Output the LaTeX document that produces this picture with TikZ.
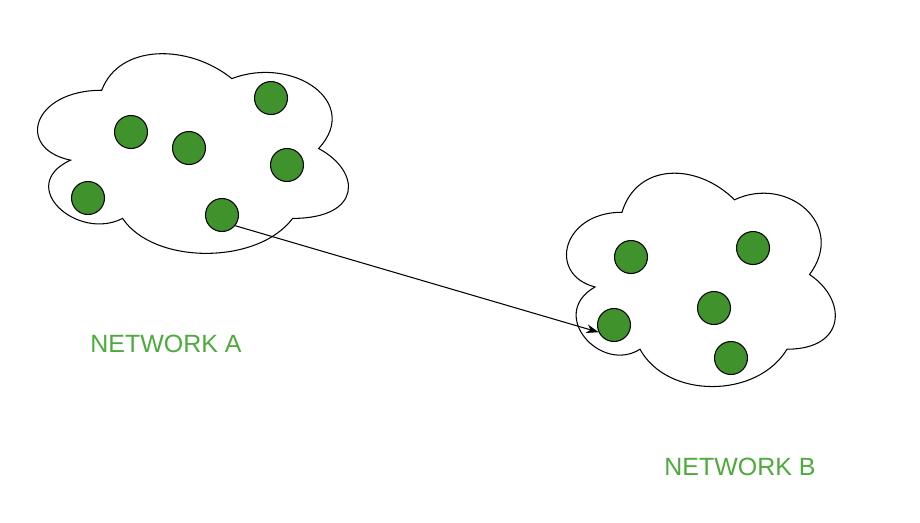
\documentclass[tikz,border=0pt]{standalone}
\usepackage{fontspec}
\setmainfont{Liberation Sans}
\usetikzlibrary{arrows.meta}

% cloud outline: #1,#2 = top left corner, #3 = width, #4 = height (in px)
\newcommand{\netcloud}[4]{%
  \draw[cloudline, shift={(#1,#2)}, xscale=#3, yscale=#4]
    (0.25,0.25) .. controls (0.05,0.25) and (0,0.5) .. (0.16,0.55)
    .. controls (0,0.66) and (0.18,0.9) .. (0.31,0.8)
    .. controls (0.4,1) and (0.7,1) .. (0.8,0.8)
    .. controls (1,0.8) and (1,0.6) .. (0.875,0.5)
    .. controls (1,0.3) and (0.8,0.1) .. (0.625,0.2)
    .. controls (0.5,0.05) and (0.3,0.05) .. (0.25,0.25) -- cycle;}

\begin{document}
\begin{tikzpicture}[x=0.02cm, y=-0.02cm, >=stealth,
  cloudline/.style={draw=black, line width=0.6pt},
  host/.style={circle, draw=black, line width=0.6pt, fill=hostgreen,
    minimum size=0.66cm, inner sep=0pt},
  netlabel/.style={text=labelgreen, font=\fontsize{14.2}{17}\selectfont}]
  \definecolor{hostgreen}{HTML}{40932C}
  \definecolor{labelgreen}{HTML}{4DAA3C}

  \useasboundingbox (0,0) rectangle (920,522);

  % Network A
  \netcloud{15}{32}{347}{233}
  \foreach \n/\x/\y in {1/271/98, 2/131/132, 3/189/148, 4/287/165, 5/88/198, 6/222/215} {
    \node[host] (a\n) at (\x,\y) {};
  }
  \node[netlabel] (labA) at (166,344) {NETWORK A};

  % Network B
  \netcloud{547}{150}{300}{249}
  \foreach \n/\x/\y in {1/631/257, 2/753/248, 3/714/308, 4/614/325, 5/731/358} {
    \node[host] (b\n) at (\x,\y) {};
  }
  \node[netlabel] (labB) at (740,467) {NETWORK B};

  % link
  \draw[-{Stealth[length=7pt, width=5pt]}, line width=0.6pt] (a6.-39) -- (b4.205);
\end{tikzpicture}
\end{document}
